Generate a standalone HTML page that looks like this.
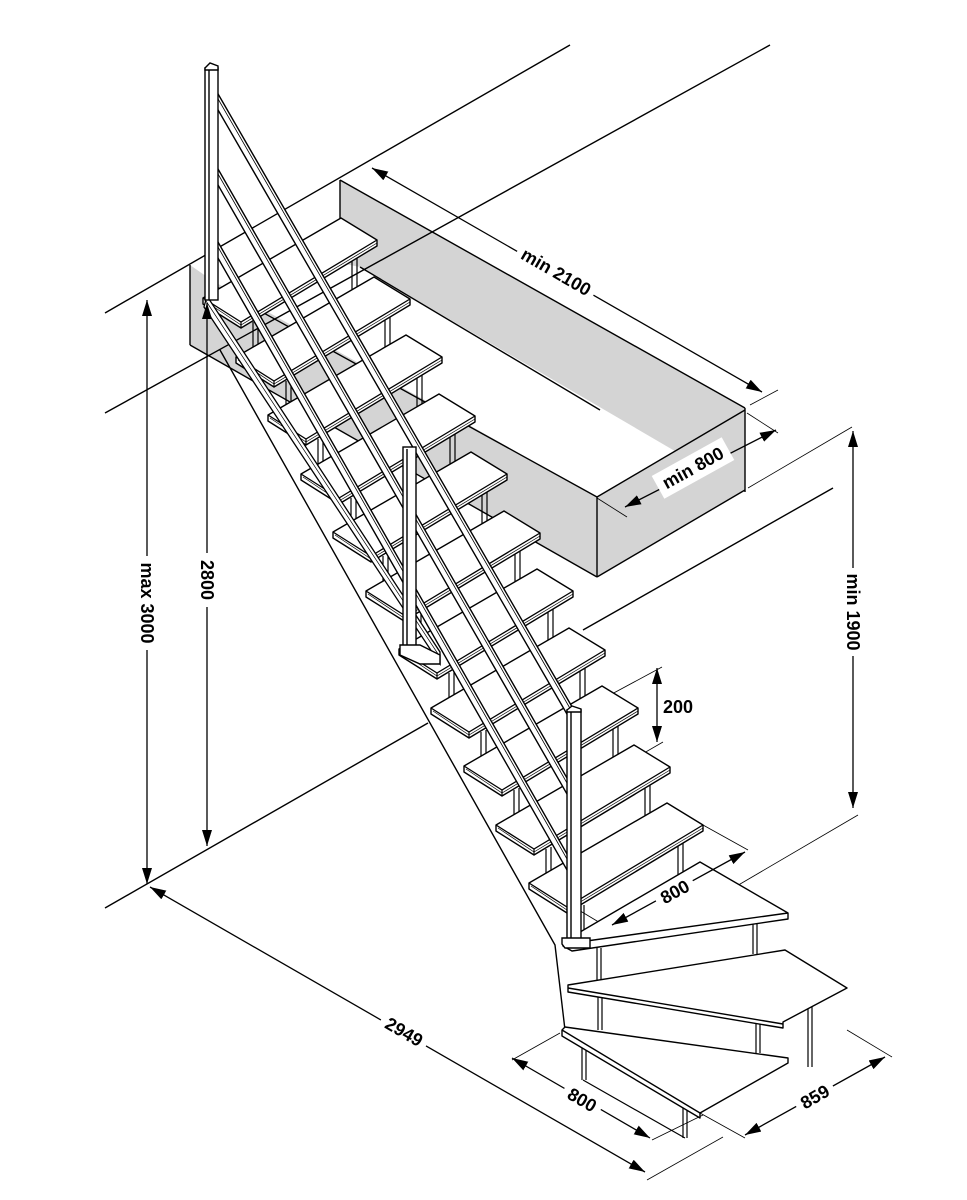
<!DOCTYPE html>
<html><head><meta charset="utf-8"><style>
html,body{margin:0;padding:0;background:#fff;}
svg{display:block;}
text{font-family:"Liberation Sans",sans-serif;font-weight:bold;font-size:18px;fill:#000;}
</style></head><body>
<svg width="967" height="1200" viewBox="0 0 967 1200" xmlns="http://www.w3.org/2000/svg">
<defs>
<marker id="ar" viewBox="0 0 16 10" refX="16" refY="5" markerWidth="16" markerHeight="10" markerUnits="userSpaceOnUse" orient="auto-start-reverse">
<path d="M0,0 L16,5 L0,10 z" fill="#000"/></marker>
<g id="tread">
<path d="M50,24 v28 M55,22 v28 M149,-37 v30 M154,-40 v30" stroke="#000" stroke-width="1.2" fill="none"/>
<polygon points="0,0 138,-80 174,-58 174,-52 38,30 0,6" fill="#fff" stroke="#000" stroke-width="1.4" stroke-linejoin="round"/>
<polyline points="0,0 38,24 174,-58" fill="none" stroke="#000" stroke-width="1.3"/>
<polyline points="2,3 38,27 174,-55" fill="none" stroke="#000" stroke-width="0.7"/>
<line x1="38" y1="24" x2="38" y2="30" stroke="#000" stroke-width="1.2"/>
</g>
</defs>

<polygon points="340,180 745,408 745,492 360,267 340,263" fill="#d4d4d4"/>
<polygon points="190,265 213,281 597,497 745,410 745,490 597,577 190,345" fill="#d4d4d4"/>
<g stroke="#000" stroke-width="1.4" fill="none">
<line x1="340" y1="180" x2="745" y2="408"/>
<line x1="340" y1="180" x2="340" y2="265"/>
<line x1="360" y1="267" x2="600" y2="410"/>
<line x1="213" y1="285" x2="597" y2="497"/>
<line x1="597" y1="497" x2="745" y2="410"/>
<line x1="745" y1="408" x2="745" y2="492"/>
<line x1="597" y1="497" x2="597" y2="577"/>
<line x1="597" y1="577" x2="745" y2="490"/>
<line x1="190" y1="265" x2="190" y2="345"/>
<line x1="190" y1="345" x2="597" y2="577"/>
<line x1="105" y1="313" x2="570" y2="45"/>
<line x1="105" y1="413" x2="770" y2="45"/>
<line x1="583" y1="630" x2="833" y2="488"/>
<line x1="105" y1="908" x2="428" y2="723"/>
<polyline points="220,350 555,945 565,1030"/>
</g>
<g stroke="#000" stroke-width="0.8" fill="none">
<line x1="748" y1="488" x2="852" y2="427"/>
<line x1="735" y1="887" x2="858" y2="815"/>
<line x1="610" y1="695" x2="662" y2="667"/>
<line x1="625" y1="764" x2="663" y2="742"/>
<line x1="597" y1="498" x2="627" y2="517"/>
<line x1="747" y1="413" x2="778" y2="433"/>
<line x1="750" y1="405" x2="778" y2="390"/>
<line x1="567" y1="903" x2="612" y2="930"/>
<line x1="703" y1="825" x2="748" y2="850"/>
<line x1="512" y1="1060" x2="560" y2="1033"/>
<line x1="652" y1="1140" x2="703" y2="1115"/>
<line x1="647" y1="1180" x2="723" y2="1137"/>
<line x1="700" y1="1113" x2="745" y2="1138"/>
<line x1="847" y1="1030" x2="892" y2="1057"/>
</g>

<use href="#tread" transform="translate(203,298)"/>
<use href="#tread" transform="translate(236,357)"/>
<use href="#tread" transform="translate(268,415)"/>
<use href="#tread" transform="translate(301,474)"/>
<use href="#tread" transform="translate(333,532)"/>
<use href="#tread" transform="translate(366,591)"/>
<use href="#tread" transform="translate(399,649)"/>
<use href="#tread" transform="translate(431,708)"/>
<use href="#tread" transform="translate(464,766)"/>
<use href="#tread" transform="translate(496,825)"/>
<use href="#tread" transform="translate(529,883)"/>

<g stroke="#000" stroke-width="1.4" fill="#fff" stroke-linejoin="round">
<path d="M597,948 v32 M601,948 v32 M753,918 v36 M757,918 v36" fill="none" stroke-width="1.2"/>
<polygon points="563,942 700,862 788,913 788,919 572,951 563,946"/>
<line x1="565" y1="944" x2="788" y2="913" fill="none"/>
<path d="M598,995 v35 M602,995 v35 M756,1022 v31 M760,1022 v31 M808,1005 v62 M812,1005 v62" fill="none" stroke-width="1.2"/>
<polygon points="568,985 785,950 847,988 783,1022 783,1028 568,992"/>
<line x1="568" y1="988" x2="783" y2="1024" fill="none"/>
<path d="M582,1045 v35 M586,1045 v35 M683,1100 v38 M687,1100 v38 M583,1080 L685,1138" fill="none" stroke-width="1.2"/>
<polygon points="562,1030 565,1027 788,1058 788,1063 700,1113 700,1118 562,1036"/>
<line x1="562" y1="1030" x2="700" y2="1113" fill="none"/>
</g>

<g stroke="#000" stroke-width="1.3" fill="#fff">
<polygon points="207,296 440,652 440,664 204,307"/>
<line x1="206" y1="301" x2="440" y2="657" fill="none" stroke-width="0.7"/>
</g>
<g stroke="#000" stroke-width="1.4" fill="#fff">
<polygon points="210,80 575,712 575,728 210,96"/>
<line x1="210" y1="85" x2="575" y2="717" stroke-width="0.8"/>
<polygon points="210,155 575,792 575,808 210,171"/>
<line x1="210" y1="160" x2="575" y2="797" stroke-width="0.8"/>
<polygon points="210,228 575,868 575,884 210,244"/>
<line x1="210" y1="233" x2="575" y2="873" stroke-width="0.8"/>
</g>
<g stroke="#000" stroke-width="1.4" fill="#fff">
<rect x="205" y="68" width="13" height="232"/>
<line x1="209" y1="70" x2="209" y2="300"/>
<polygon points="205,68 210,63 218,66 218,70 205,70"/>
<rect x="403" y="447" width="13" height="200"/>
<line x1="407" y1="449" x2="407" y2="647"/>
<polygon points="400,645 420,645 440,655 440,664 420,664 400,655"/>
<rect x="567" y="710" width="14" height="236"/>
<line x1="571" y1="712" x2="571" y2="946"/>
<polygon points="567,710 572,706 581,709 581,712 567,712"/>
<polygon points="562,938 590,938 590,948 565,948 562,944"/>
</g>

<g stroke="#000" stroke-width="1.3" fill="none">
<line x1="147" y1="300" x2="147" y2="884" marker-start="url(#ar)" marker-end="url(#ar)"/>
<line x1="207" y1="303" x2="207" y2="846" marker-start="url(#ar)" marker-end="url(#ar)"/>
<line x1="853" y1="431" x2="853" y2="808" marker-start="url(#ar)" marker-end="url(#ar)"/>
<line x1="657" y1="668" x2="657" y2="742" marker-start="url(#ar)" marker-end="url(#ar)"/>
<line x1="372" y1="168" x2="762" y2="392" marker-start="url(#ar)" marker-end="url(#ar)"/>
<line x1="625" y1="507" x2="776" y2="430" marker-start="url(#ar)" marker-end="url(#ar)"/>
<line x1="150" y1="887" x2="645" y2="1172" marker-start="url(#ar)" marker-end="url(#ar)"/>
<line x1="512" y1="1058" x2="650" y2="1138" marker-start="url(#ar)" marker-end="url(#ar)"/>
<line x1="745" y1="1135" x2="885" y2="1057" marker-start="url(#ar)" marker-end="url(#ar)"/>
<line x1="612" y1="925" x2="745" y2="852" marker-start="url(#ar)" marker-end="url(#ar)"/>
</g>

<g transform="translate(147,603) rotate(90)"><rect x="-47" y="-11" width="94" height="22" fill="#fff"/><text x="0" y="6" text-anchor="middle">max 3000</text></g>
<g transform="translate(207,580) rotate(90)"><rect x="-27" y="-11" width="54" height="22" fill="#fff"/><text x="0" y="6" text-anchor="middle">2800</text></g>
<g transform="translate(853,612) rotate(90)"><rect x="-44" y="-11" width="88" height="22" fill="#fff"/><text x="0" y="6" text-anchor="middle">min 1900</text></g>
<text x="663" y="713">200</text>
<g transform="translate(556,272) rotate(30)"><rect x="-44" y="-12" width="88" height="24" fill="#fff"/><text x="0" y="6" text-anchor="middle">min 2100</text></g>
<g transform="translate(693,468) rotate(-29)"><rect x="-40" y="-13" width="80" height="26" fill="#fff"/><text x="0" y="6" text-anchor="middle">min 800</text></g>
<g transform="translate(404,1032) rotate(30)"><rect x="-26" y="-12" width="52" height="24" fill="#fff"/><text x="0" y="6" text-anchor="middle">2949</text></g>
<g transform="translate(582,1100) rotate(30)"><rect x="-21" y="-12" width="42" height="24" fill="#fff"/><text x="0" y="6" text-anchor="middle">800</text></g>
<g transform="translate(815,1097) rotate(-30)"><rect x="-21" y="-12" width="42" height="24" fill="#fff"/><text x="0" y="6" text-anchor="middle">859</text></g>
<g transform="translate(675,892) rotate(-29)"><rect x="-21" y="-12" width="42" height="24" fill="#fff"/><text x="0" y="6" text-anchor="middle">800</text></g>
</svg>
</body></html>
